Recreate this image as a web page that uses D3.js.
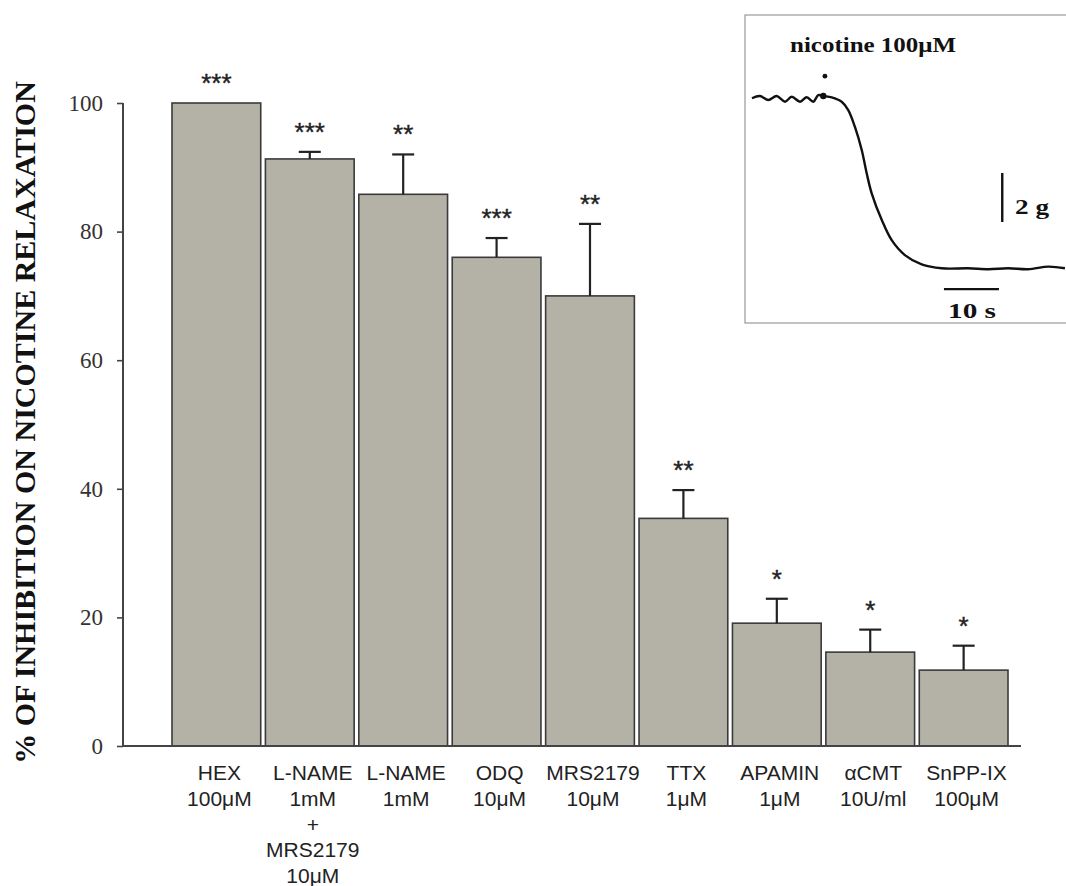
<!DOCTYPE html>
<html>
<head>
<meta charset="utf-8">
<script src="https://cdn.jsdelivr.net/npm/d3@7"></script>
<style>
  html, body { margin: 0; padding: 0; background: #fff; }
  svg { display: block; }
</style>
</head>
<body>
<svg id="chart" width="1066" height="886"></svg>
<script>
// ---- Data ----
const categories = ["HEX", "L-NAME+MRS", "L-NAME", "ODQ", "MRS2179", "TTX", "APAMIN", "aCMT", "SnPP-IX"];
const categoryLabels = [
  ["HEX", "100μM"],
  ["L-NAME", "1mM", "+", "MRS2179", "10μM"],
  ["L-NAME", "1mM"],
  ["ODQ", "10μM"],
  ["MRS2179", "10μM"],
  ["TTX", "1μM"],
  ["APAMIN", "1μM"],
  ["αCMT", "10U/ml"],
  ["SnPP-IX", "100μM"]
];
const meanValues = [100, 91.3, 85.8, 76.0, 70.0, 35.4, 19.1, 14.6, 11.8];
const semValues  = [0, 1.1, 6.2, 3.0, 11.2, 4.4, 3.8, 3.5, 3.8];
const significance = ["***", "***", "**", "***", "**", "**", "*", "*", "*"];
const yTicks = [0, 20, 40, 60, 80, 100];
const yTitle = "% OF INHIBITION ON NICOTINE RELAXATION";

// Inset trace (time in s, tension in g, relative to final level)
const traceTime    = [0, 1.45, 2.96, 4.49, 6.0, 7.22, 8.73, 9.95, 11.15, 12.05, 12.96, 14.49, 16.3, 17.5, 18.7, 19.95, 20.85, 21.76, 23.6, 25.4, 27.8, 30.85, 34.5, 39.3, 43.0, 46.6, 50.2, 53.9, 56.9];
const traceTension = [6.94, 7.03, 6.87, 7.03, 6.80, 7.00, 6.80, 6.98, 6.80, 7.07, 7.03, 6.98, 6.80, 6.46, 5.78, 4.83, 3.88, 3.06, 1.97, 1.15, 0.54, 0.16, 0, 0, -0.04, 0, -0.04, 0.07, 0];
const nicotineTime = 12.96;
const insetLabel = "nicotine 100μM";

// ---- Layout ----
const svg = d3.select("#chart");
const yAxisX = 123;

const x = d3.scaleBand().domain(categories).range([172, 1008]).paddingInner(0.05).paddingOuter(0);
const y = d3.scaleLinear().domain([0, 100]).range([746, 103]);

// Bars
svg.append("g").selectAll("rect").data(categories).join("rect")
  .attr("x", d => x(d))
  .attr("y", (d, i) => y(meanValues[i]))
  .attr("width", x.bandwidth())
  .attr("height", (d, i) => y(0) - y(meanValues[i]))
  .attr("fill", "#b4b2a6")
  .attr("stroke", "#3a3a3a")
  .attr("stroke-width", 1.6);

// Error bars
const eb = svg.append("g").attr("stroke", "#222").attr("stroke-width", 2.2);
categories.forEach((c, i) => {
  if (semValues[i] <= 0) return;
  const cx = x(c) + x.bandwidth() / 2;
  eb.append("line").attr("x1", cx).attr("x2", cx)
    .attr("y1", y(meanValues[i])).attr("y2", y(meanValues[i] + semValues[i]));
  eb.append("line").attr("x1", cx - 11).attr("x2", cx + 11)
    .attr("y1", y(meanValues[i] + semValues[i])).attr("y2", y(meanValues[i] + semValues[i]));
});

// Significance stars
svg.append("g").selectAll("text").data(categories).join("text")
  .attr("x", d => x(d) + x.bandwidth() / 2)
  .attr("y", (d, i) => y(meanValues[i] + semValues[i]) - 11)
  .attr("text-anchor", "middle")
  .attr("font-family", "Liberation Sans, Arial, sans-serif")
  .attr("font-size", 26)
  .attr("stroke", "#222")
  .attr("stroke-width", 0.4)
  .attr("fill", "#222")
  .text((d, i) => significance[i]);

// Y axis
const yAxis = d3.axisLeft(y).tickValues(yTicks).tickSize(6).tickPadding(14);
const gy = svg.append("g").attr("transform", `translate(${yAxisX},0)`).call(yAxis);
gy.select(".domain").attr("stroke", "#444").attr("stroke-width", 2).attr("d", `M0,${y(100)}V${y(0)}`);
gy.selectAll(".tick line").attr("stroke", "#444").attr("stroke-width", 1.6);
gy.selectAll(".tick text")
  .attr("font-family", "Liberation Serif, Times New Roman, serif")
  .attr("font-size", 23)
  .attr("fill", "#333");

// X axis baseline
const xAxis = d3.axisBottom(x).tickSize(0).tickFormat("");
const gx = svg.append("g").attr("transform", `translate(0,${y(0)})`).call(xAxis);
gx.select(".domain").attr("stroke", "#444").attr("stroke-width", 2).attr("d", `M${yAxisX},0H1021`);

// X labels
const lab = svg.append("g")
  .attr("font-family", "Liberation Sans, Arial, sans-serif")
  .attr("font-size", 21)
  .attr("fill", "#222")
  .attr("text-anchor", "middle");
categories.forEach((c, i) => {
  const cx = x(c) + x.bandwidth() / 2 + 3;
  categoryLabels[i].forEach((line, k) => {
    lab.append("text").attr("x", cx).attr("y", 780 + k * 25.8).text(line);
  });
});

// Y title
svg.append("text")
  .attr("transform", "translate(35,422.5) rotate(-90)")
  .attr("text-anchor", "middle")
  .attr("font-family", "Liberation Serif, Times New Roman, serif")
  .attr("font-weight", "bold")
  .attr("font-size", 30)
  .attr("fill", "#111")
  .text(yTitle);

// ---- Inset ----
const inset = svg.append("g");
inset.append("rect").attr("x", 745).attr("y", 15).attr("width", 340).attr("height", 308)
  .attr("fill", "#fff").attr("stroke", "#999").attr("stroke-width", 1.2);

const tx = d3.scaleLinear().domain([0, 10]).range([752, 807]);
const ty = d3.scaleLinear().domain([0, 2]).range([268.3, 219.3]);

const line = d3.line().x((d, i) => tx(traceTime[i])).y((d, i) => ty(traceTension[i])).curve(d3.curveCatmullRom.alpha(0.5));
inset.append("path").datum(traceTime).attr("d", line)
  .attr("fill", "none").attr("stroke", "#111").attr("stroke-width", 2.4);

// application marker
const nicIdx = traceTime.indexOf(nicotineTime);
inset.append("circle").attr("cx", tx(nicotineTime)).attr("cy", ty(traceTension[nicIdx])).attr("r", 3.2).attr("fill", "#111");
inset.append("circle").attr("cx", tx(nicotineTime + 0.3)).attr("cy", ty(7.84)).attr("r", 2.4).attr("fill", "#111");

inset.append("text").attr("x", 790).attr("y", 52)
  .attr("font-family", "Liberation Serif, Times New Roman, serif")
  .attr("font-weight", "bold").attr("font-size", 21).attr("fill", "#111")
  .attr("textLength", 166).attr("lengthAdjust", "spacingAndGlyphs")
  .text(insetLabel);

// scale bars
inset.append("line").attr("x1", tx(45.5)).attr("x2", tx(45.5)).attr("y1", ty(1.89)).attr("y2", ty(3.89))
  .attr("stroke", "#111").attr("stroke-width", 2.4);
inset.append("text").attr("x", 1015).attr("y", 214)
  .attr("font-family", "Liberation Serif, Times New Roman, serif")
  .attr("font-weight", "bold").attr("font-size", 20).attr("fill", "#111")
  .attr("textLength", 34).attr("lengthAdjust", "spacingAndGlyphs")
  .text("2 g");
inset.append("line").attr("x1", tx(34.9)).attr("x2", tx(44.9)).attr("y1", ty(-0.85)).attr("y2", ty(-0.85))
  .attr("stroke", "#111").attr("stroke-width", 2.4);
inset.append("text").attr("x", 948).attr("y", 318)
  .attr("font-family", "Liberation Serif, Times New Roman, serif")
  .attr("font-weight", "bold").attr("font-size", 20).attr("fill", "#111")
  .attr("textLength", 48).attr("lengthAdjust", "spacingAndGlyphs")
  .text("10 s");
</script>
</body>
</html>
